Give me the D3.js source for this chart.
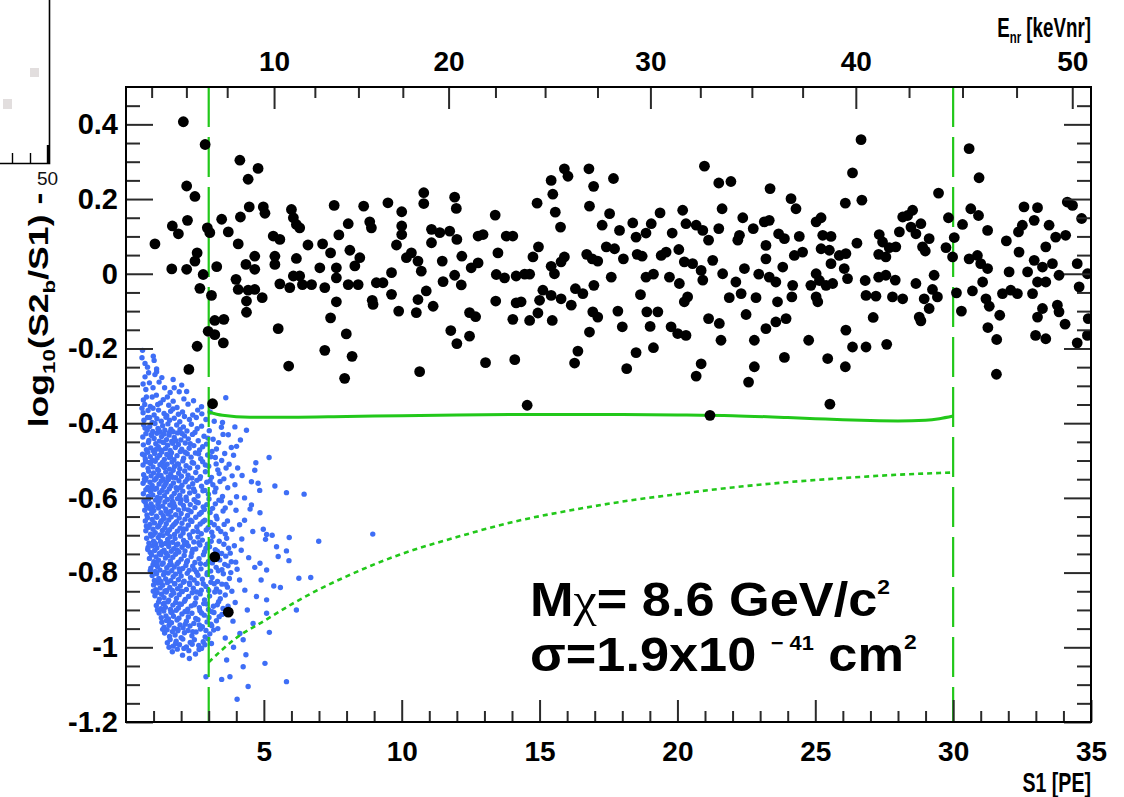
<!DOCTYPE html>
<html>
<head>
<meta charset="utf-8">
<script src="https://cdn.jsdelivr.net/npm/d3@7"></script>
<style>
  body { margin: 0; background: #fff; }
  svg { display: block; }
  text { font-family: "Liberation Sans", Arial, Helvetica, sans-serif; }
</style>
</head>
<body>
<svg id="chart" width="1124" height="797"></svg>
<script>
// ---- data: [S1 (PE), log10(S2b/S1) - mean] ----
const blackEvents = [
  [2.08,0.407],[2.87,0.346],[4.13,0.304],[4.79,0.282],[4.43,0.253],[2.2,0.235],[2.5,0.207],[1.05,0.08],[1.68,0.128],[1.9,0.107],
  [2.23,0.143],[2.95,0.123],[3.04,0.11],[3.47,0.146],[3.71,0.112],[4.07,0.08],[4.15,0.152],[4.47,0.179],[4.98,0.179],[5.04,0.162],
  [1.66,0.013],[2.2,0.012],[2.58,0.056],[2.5,0.034],[2.8,-0.002],[3.29,0.019],[2.68,-0.039],[3.1,-0.058],[3.99,-0.015],[4.07,-0.042],
  [4.35,0.025],[4.67,0.047],[4.67,0.012],[4.43,-0.044],[4.67,-0.042],[4.94,-0.064],[4.37,-0.073],[4.37,-0.103],[3.22,-0.125],[3.55,-0.122],
  [2.98,-0.154],[3.22,-0.163],[3.53,-0.185],[2.58,-0.194],[2.28,-0.256],[3.14,-0.348],[5.52,-0.147],[5.9,-0.247],[5.34,0.101],[5.58,0.092],
  [5.4,0.047],[5.4,0.025],[5.58,-0.027],[5.94,-0.037],[6.0,0.172],[6.07,0.15],[6.18,0.132],[6.3,0.123],[6.18,0.041],[6.07,-0.006],
  [6.3,-0.006],[6.6,0.077],[6.4,-0.029],[6.73,-0.029],[7.13,0.08],[7.03,0.016],[7.21,-0.037],[7.42,0.056],[7.55,0.183],[7.72,0.104],
  [7.63,0.016],[7.63,-0.011],[7.63,-0.075],[7.42,-0.118],[7.21,-0.205],[7.93,-0.28],[7.99,-0.161],[8.2,-0.221],[8.06,0.134],[8.12,0.063],
  [8.06,-0.029],[8.3,0.021],[8.48,0.043],[8.42,-0.029],[8.62,0.181],[8.84,0.139],[8.9,0.123],[8.93,-0.071],[8.96,-0.082],[9.08,-0.024],
  [9.32,-0.024],[9.5,0.19],[9.63,0.003],[9.63,-0.055],[9.89,-0.1],[10.0,0.166],[10.0,0.128],[10.0,0.105],[9.81,0.077],[10.17,0.043],
  [10.35,0.056],[10.59,0.034],[10.71,0.007],[10.53,-0.104],[10.59,-0.069],[10.89,-0.046],[11.14,-0.087],[10.65,-0.262],[10.8,0.217],[10.8,0.188],
  [11.08,0.119],[11.08,0.083],[11.38,0.11],[11.47,0.034],[11.5,-0.021],[11.74,0.114],[11.92,0.205],[11.98,0.175],[11.92,-0.004],[12.16,-0.03],
  [12.0,0.092],[12.18,0.047],[11.78,-0.152],[12.0,-0.187],[12.46,-0.104],[12.68,-0.115],[12.46,-0.167],[12.52,0.016],[12.77,0.029],[12.77,0.101],
  [12.95,0.105],[13.39,0.157],[13.49,0.056],[13.43,-0.002],[13.73,-0.011],[13.79,0.101],[14.03,0.101],[13.41,-0.073],[13.04,-0.238],[14.1,-0.23],
  [14.03,-0.122],[14.15,-0.078],[14.15,-0.006],[3.22,-0.758],[3.71,-0.906],
  [14.46,-0.001],[14.64,-0.001],[14.33,-0.075],[14.64,-0.125],[14.94,-0.105],[14.55,-0.352],[14.91,0.189],[15.42,0.25],[15.9,0.281],[16.03,0.261],
  [15.48,0.213],[15.57,0.165],[15.76,0.125],[14.96,0.072],[14.76,0.045],[15.42,0.02],[15.54,0.0],[15.78,0.032],[15.9,0.045],[15.12,-0.044],
  [15.0,-0.071],[15.42,-0.058],[15.78,-0.067],[16.15,-0.084],[16.3,-0.04],[16.57,-0.053],[15.46,-0.125],[16.79,0.281],[16.96,0.234],[16.81,0.181],
  [17.68,0.255],[16.71,0.052],[16.91,0.04],[17.11,0.034],[16.97,-0.031],[16.93,-0.102],[17.11,-0.116],[16.81,-0.156],[16.39,-0.207],[16.27,-0.239],
  [17.27,0.13],[17.54,0.161],[17.42,0.072],[17.72,0.067],[17.6,-0.009],[17.9,0.116],[18.04,0.04],[17.84,-0.1],[18.0,-0.142],[18.16,-0.254],
  [18.38,0.136],[18.5,0.098],[18.54,0.052],[18.72,0.047],[18.86,0.109],[19.05,0.134],[19.37,0.163],[18.66,-0.056],[18.86,-0.009],[19.13,-0.001],
  [18.89,-0.102],[19.29,-0.102],[19.01,-0.141],[18.5,-0.211],[19.13,-0.198],[19.41,0.049],[19.59,0.058],[19.81,0.109],[19.71,-0.009],[20.07,-0.026],
  [19.77,-0.142],[20.01,-0.16],[20.31,-0.165],[20.05,0.065],[20.25,0.032],[20.19,0.17],[20.31,0.134],[20.68,0.13],[20.92,0.116],[21.13,0.09],
  [20.98,0.288],[21.5,0.243],[21.94,0.247],[21.62,0.174],[21.5,0.121],[20.55,0.027],[20.86,0.009],[20.92,-0.017],[21.28,0.036],[20.37,-0.062],
  [20.25,-0.075],[21.13,-0.12],[21.52,-0.133],[21.58,-0.178],[20.86,-0.241],[20.68,-0.274],[21.18,-0.379],[21.64,0.0],[21.88,-0.064],[22.12,-0.022],
  [22.31,-0.053],[22.43,0.014],[22.19,0.09],[22.25,0.103],[22.37,0.15],[22.75,0.121],[23.15,0.139],[23.33,0.143],[23.36,0.228],[22.49,-0.109],
  [22.79,-0.178],[22.79,-0.249],[22.58,-0.29],[22.85,-0.064],[22.95,-0.001],[23.21,0.076],[23.21,0.04],[23.33,-0.009],[23.57,-0.022],[23.67,0.107],
  [23.88,0.094],[23.82,0.018],[23.63,-0.075],[23.21,-0.147],[23.57,-0.129],[23.94,-0.12],[23.88,-0.224],[24.12,0.201],[24.3,0.174],[24.18,-0.031],
  [24.15,-0.062],[24.24,0.049],
  [24.42,0.1],[24.54,0.058],[25.03,0.139],[25.21,0.15],[25.27,0.103],[25.57,0.1],[25.21,0.067],[25.51,0.063],[25.57,0.027],[25.03,0.0],
  [24.84,-0.031],[25.15,-0.018],[25.39,-0.031],[25.63,-0.026],[25.03,-0.062],[25.09,-0.075],[25.87,0.049],[26.11,0.054],[26.05,0.014],[26.17,-0.013],
  [26.09,0.189],[26.69,0.197],[26.35,0.27],[26.66,0.359],[26.51,0.082],[24.76,-0.178],[25.45,-0.227],[26.11,-0.151],[26.35,-0.196],[26.84,-0.196],
  [26.09,-0.249],[25.53,-0.349],[26.81,-0.018],[26.84,-0.058],[27.2,-0.06],[27.1,-0.117],[27.32,0.105],[27.44,0.085],[27.3,0.052],[27.56,0.045],
  [27.68,0.07],[27.92,0.072],[27.3,-0.009],[27.56,-0.004],[27.9,-0.017],[27.8,-0.062],[28.17,-0.067],[27.59,-0.189],[28.17,0.152],[28.35,0.156],
  [28.53,0.17],[28.05,0.112],[28.47,0.125],[28.83,0.134],[28.65,0.107],[28.89,0.072],[29.13,0.094],[28.99,0.061],[29.47,0.216],[28.65,-0.026],
  [29.31,-0.004],[29.25,-0.042],[28.95,-0.067],[29.43,-0.062],[29.13,-0.093],[28.77,-0.116],[28.83,-0.126],[29.74,0.07],[29.83,0.15],[30.04,0.097],
  [29.98,0.045],[30.12,-0.051],[30.3,-0.1],[30.34,0.132],[30.64,0.174],[30.92,0.156],[30.58,0.335],[30.94,0.257],[31.25,0.116],[30.58,0.04],
  [30.88,0.049],[31.0,0.027],[31.25,0.014],[31.07,-0.022],[30.7,-0.046],[31.19,-0.067],[31.31,-0.087],[31.69,-0.111],[31.26,-0.144],[31.58,-0.176],
  [31.57,-0.269],[31.79,-0.053],[32.03,0.005],[32.09,-0.044],[32.33,-0.053],[31.93,0.088],[32.37,0.112],[32.39,0.058],[32.51,0.13],[32.57,0.179],
  [33.06,0.177],[32.94,0.143],[32.7,0.005],[32.94,0.036],[32.88,-0.053],[33.24,0.018],[33.36,0.072],[33.06,-0.022],[33.36,-0.022],[33.6,0.027],
  [33.84,-0.004],[33.48,0.13],[33.72,0.098],[34.08,0.103],[34.14,0.192],[34.33,0.183],[34.66,0.148],[33.24,-0.093],[33.06,-0.116],[33.78,-0.084],
  [33.84,-0.102],[34.06,-0.135],[32.99,-0.165],[33.36,-0.174],[34.5,0.027],[34.57,-0.035],[34.87,0.0],[34.9,-0.12],[34.87,-0.165],[34.5,-0.185]
];

// neutron calibration (nuclear recoil band)
const blueCalib = [
  [0.6,-0.205],[0.99,-0.221],[0.69,-0.24],[1.02,-0.232],[1.11,-0.255],[0.78,-0.25],[0.69,-0.276],[1.11,-0.262],[1.71,-0.283],[1.05,-0.27],
  [2.02,-0.298],[1.2,-0.29],[0.85,-0.292],[1.93,-0.316],[0.72,-0.31],[1.4,-0.305],[1.6,-0.318],[0.63,-0.338],[1.35,-0.337],[1.71,-0.341],
  [3.62,-0.332],[0.95,-0.33],[1.1,-0.325],[2.1,-0.335],[0.68,-0.35],[0.88,-0.355],[1.25,-0.346],[1.55,-0.352],[1.85,-0.358],[2.74,-0.356],
  [2.25,-0.349],[0.98,-0.36],[0.62,-0.372],[0.8,-0.366],[1.02,-0.378],[1.18,-0.365],[1.38,-0.374],[1.62,-0.368],[1.9,-0.376],[2.42,-0.378],
  [2.05,-0.37],[1.48,-0.38],[0.65,-0.392],[0.78,-0.385],[0.95,-0.398],[1.12,-0.388],[1.28,-0.395],[1.45,-0.384],[1.58,-0.392],[1.75,-0.387],
  [1.95,-0.396],[2.3,-0.39],[2.55,-0.385],[3.5,-0.398],[2.9,-0.39],
  [0.58,-0.225],[0.82,-0.265],[1.3,-0.278],[0.62,-0.295],[0.98,-0.305],[1.75,-0.305],[2.2,-0.315],[0.74,-0.33],[1.5,-0.33],[2.45,-0.34],
  [0.58,-0.36],[1.15,-0.35],[1.7,-0.362],[2.6,-0.365],[3.05,-0.37],[0.86,-0.385],[2.12,-0.382],[2.75,-0.375],[3.2,-0.395],[3.95,-0.41],[4.15,-0.445],
  [0.64,-0.404],[0.77,-0.418],[0.86,-0.409],[0.97,-0.422],[1.05,-0.401],[1.16,-0.414],[1.24,-0.424],[1.33,-0.407],[1.41,-0.419],[1.52,-0.402],
  [1.63,-0.416],[1.71,-0.423],[1.84,-0.405],[1.96,-0.417],[2.08,-0.41],[2.21,-0.421],[2.37,-0.403],[2.58,-0.415],[2.74,-0.408],[3.02,-0.42],
  [3.46,-0.411],[4.37,-0.419],
  [0.61,-0.437],[0.72,-0.428],[0.83,-0.446],[0.93,-0.433],[1.02,-0.441],[1.12,-0.427],[1.21,-0.448],[1.29,-0.436],[1.38,-0.429],[1.47,-0.444],
  [1.56,-0.432],[1.66,-0.449],[1.75,-0.438],[1.87,-0.426],[1.99,-0.445],[2.12,-0.434],[2.26,-0.442],[2.41,-0.43],[2.62,-0.447],[2.83,-0.435],
  [3.16,-0.443],[3.71,-0.431],
  [0.63,-0.458],[0.74,-0.471],[0.81,-0.452],[0.9,-0.466],[0.99,-0.474],[1.08,-0.455],[1.17,-0.463],[1.26,-0.472],[1.34,-0.451],[1.43,-0.468],
  [1.51,-0.459],[1.6,-0.473],[1.69,-0.454],[1.79,-0.465],[1.9,-0.457],[2.02,-0.47],[2.15,-0.453],[2.29,-0.467],[2.46,-0.46],[2.67,-0.472],
  [2.92,-0.456],[3.28,-0.469],[4.01,-0.462],
  [0.6,-0.483],[0.7,-0.496],[0.79,-0.478],[0.88,-0.49],[0.96,-0.499],[1.04,-0.481],[1.13,-0.493],[1.22,-0.486],[1.3,-0.477],[1.39,-0.497],
  [1.48,-0.484],[1.57,-0.492],[1.65,-0.479],[1.74,-0.498],[1.85,-0.487],[1.97,-0.476],[2.09,-0.494],[2.22,-0.482],[2.36,-0.491],[2.52,-0.48],
  [2.71,-0.495],[2.96,-0.485],[3.24,-0.492],[3.58,-0.481],[5.19,-0.492],
  [0.62,-0.512],[0.71,-0.503],[0.8,-0.521],[0.89,-0.508],[0.98,-0.517],[1.06,-0.502],[1.15,-0.524],[1.23,-0.511],[1.32,-0.505],[1.4,-0.519],
  [1.49,-0.51],[1.58,-0.523],[1.67,-0.504],[1.76,-0.516],[1.86,-0.509],[1.95,-0.522],[2.06,-0.501],[2.18,-0.514],[2.31,-0.52],[2.45,-0.507],
  [2.6,-0.518],[2.78,-0.503],[3.0,-0.515],[3.27,-0.509],[3.63,-0.52],[4.71,-0.506],[4.67,-0.526],
  [0.64,-0.538],[0.73,-0.547],[0.82,-0.529],[0.91,-0.541],[1.0,-0.533],[1.09,-0.548],[1.18,-0.527],[1.27,-0.54],[1.35,-0.549],[1.44,-0.531],
  [1.53,-0.544],[1.62,-0.536],[1.71,-0.526],[1.8,-0.546],[1.91,-0.534],[2.01,-0.542],[2.13,-0.528],[2.25,-0.539],[2.39,-0.547],[2.53,-0.532],
  [2.7,-0.543],[2.88,-0.53],[3.1,-0.545],[3.38,-0.535],[3.85,-0.541],
  [0.62,-0.561],[0.7,-0.553],[0.79,-0.572],[0.87,-0.558],[0.95,-0.567],[1.03,-0.552],[1.11,-0.574],[1.2,-0.563],[1.28,-0.555],[1.37,-0.57],
  [1.46,-0.559],[1.54,-0.551],[1.63,-0.568],[1.72,-0.56],[1.82,-0.573],[1.92,-0.554],[2.03,-0.566],[2.15,-0.557],[2.28,-0.571],[2.42,-0.562],
  [2.57,-0.553],[2.74,-0.569],[2.93,-0.558],[3.15,-0.565],[3.41,-0.556],[4.55,-0.557],[4.79,-0.561],[5.4,-0.568],
  [0.63,-0.589],[0.72,-0.578],[0.81,-0.596],[0.89,-0.583],[0.97,-0.592],[1.05,-0.577],[1.14,-0.599],[1.22,-0.586],[1.31,-0.58],[1.39,-0.594],
  [1.48,-0.584],[1.57,-0.576],[1.66,-0.597],[1.75,-0.588],[1.85,-0.579],[1.95,-0.593],[2.06,-0.582],[2.18,-0.598],[2.31,-0.587],[2.45,-0.576],
  [2.61,-0.595],[2.79,-0.581],[2.99,-0.59],[3.22,-0.584],[3.5,-0.596],[4.01,-0.597],[5.82,-0.586],[6.46,-0.59],
  [0.65,-0.608],[0.74,-0.621],[0.82,-0.603],[0.91,-0.616],[0.99,-0.624],[1.07,-0.606],[1.16,-0.617],[1.24,-0.601],[1.33,-0.622],[1.41,-0.611],
  [1.5,-0.604],[1.59,-0.619],[1.68,-0.609],[1.77,-0.623],[1.87,-0.602],[1.97,-0.614],[2.08,-0.62],[2.2,-0.607],[2.33,-0.618],[2.47,-0.605],
  [2.62,-0.613],[2.8,-0.624],[3.01,-0.603],[3.24,-0.616],[3.46,-0.608],[4.55,-0.619],
  [0.68,-0.633],[0.76,-0.646],[0.85,-0.628],[0.93,-0.641],[1.01,-0.634],[1.1,-0.649],[1.18,-0.627],[1.27,-0.64],[1.35,-0.648],[1.44,-0.63],
  [1.53,-0.643],[1.62,-0.636],[1.71,-0.626],[1.8,-0.645],[1.9,-0.632],[2.0,-0.642],[2.11,-0.629],[2.23,-0.647],[2.36,-0.637],[2.5,-0.626],
  [2.66,-0.644],[2.84,-0.631],[3.05,-0.639],[3.27,-0.649],[3.52,-0.635],[4.86,-0.64],
  [0.7,-0.662],[0.78,-0.653],[0.87,-0.671],[0.95,-0.658],[1.03,-0.667],[1.12,-0.652],[1.2,-0.674],[1.29,-0.661],[1.38,-0.655],[1.46,-0.669],
  [1.55,-0.659],[1.64,-0.651],[1.73,-0.672],[1.83,-0.664],[1.93,-0.654],[2.03,-0.668],[2.14,-0.657],[2.26,-0.673],[2.39,-0.663],[2.53,-0.652],
  [2.69,-0.67],[2.86,-0.66],[3.07,-0.666],[3.3,-0.656],[3.56,-0.671],[4.3,-0.66],
  [0.72,-0.688],[0.81,-0.679],[0.89,-0.697],[0.98,-0.684],[1.06,-0.693],[1.15,-0.678],[1.23,-0.699],[1.32,-0.687],[1.41,-0.68],[1.49,-0.695],
  [1.58,-0.685],[1.67,-0.677],[1.76,-0.698],[1.86,-0.689],[1.96,-0.681],[2.07,-0.694],[2.18,-0.683],[2.3,-0.699],[2.43,-0.69],[2.57,-0.678],
  [2.73,-0.696],[2.91,-0.686],[3.11,-0.692],[3.34,-0.682],[3.6,-0.697],[4.98,-0.684],[5.1,-0.698],[8.95,-0.697],
  [0.75,-0.708],[0.83,-0.721],[0.92,-0.703],[1.0,-0.716],[1.08,-0.724],[1.17,-0.706],[1.25,-0.717],[1.34,-0.701],[1.43,-0.722],[1.51,-0.711],
  [1.6,-0.704],[1.69,-0.719],[1.78,-0.709],[1.88,-0.723],[1.98,-0.702],[2.09,-0.714],[2.2,-0.72],[2.33,-0.707],[2.46,-0.718],[2.61,-0.705],
  [2.77,-0.713],[2.95,-0.724],[3.15,-0.703],[3.38,-0.716],[3.65,-0.708],[5.06,-0.711],[5.92,-0.706],[6.99,-0.716],
  [0.8,-0.733],[0.88,-0.746],[0.96,-0.728],[1.04,-0.741],[1.12,-0.734],[1.21,-0.749],[1.29,-0.727],[1.38,-0.74],[1.46,-0.748],[1.55,-0.73],
  [1.64,-0.743],[1.73,-0.736],[1.83,-0.726],[1.92,-0.745],[2.03,-0.732],[2.14,-0.742],[2.26,-0.729],[2.39,-0.747],[2.53,-0.737],[2.68,-0.726],
  [2.85,-0.744],[3.03,-0.731],[3.24,-0.739],[3.47,-0.749],[3.72,-0.735],[5.46,-0.731],[5.82,-0.742],
  [0.85,-0.762],[0.93,-0.753],[1.01,-0.771],[1.09,-0.758],[1.18,-0.767],[1.26,-0.752],[1.35,-0.774],[1.43,-0.761],[1.52,-0.755],[1.61,-0.769],
  [1.7,-0.759],[1.8,-0.751],[1.9,-0.772],[2.0,-0.764],[2.11,-0.754],[2.23,-0.768],[2.36,-0.757],[2.5,-0.773],[2.65,-0.763],[2.81,-0.752],
  [2.99,-0.77],[3.18,-0.76],[3.4,-0.766],[3.62,-0.756],[3.82,-0.771],[5.52,-0.757],[5.91,-0.768],[4.86,-0.775],
  [0.9,-0.788],[0.98,-0.779],[1.06,-0.797],[1.14,-0.784],[1.23,-0.793],[1.31,-0.778],[1.4,-0.799],[1.48,-0.787],[1.57,-0.78],[1.66,-0.795],
  [1.75,-0.785],[1.85,-0.777],[1.95,-0.798],[2.06,-0.789],[2.17,-0.781],[2.29,-0.794],[2.42,-0.783],[2.56,-0.799],[2.72,-0.79],[2.89,-0.778],
  [3.07,-0.796],[3.27,-0.786],[3.48,-0.792],[3.7,-0.782],[4.03,-0.791],[4.67,-0.786],[5.1,-0.793],
  [0.95,-0.808],[1.03,-0.821],[1.11,-0.803],[1.19,-0.816],[1.27,-0.824],[1.36,-0.806],[1.44,-0.817],[1.53,-0.801],[1.62,-0.822],[1.71,-0.811],
  [1.8,-0.804],[1.9,-0.819],[2.0,-0.809],[2.11,-0.823],[2.22,-0.802],[2.34,-0.814],[2.47,-0.82],[2.61,-0.807],[2.77,-0.818],[2.94,-0.805],
  [3.12,-0.813],[3.32,-0.824],[3.53,-0.803],[3.75,-0.816],[6.27,-0.815],[6.7,-0.813],
  [1.0,-0.833],[1.08,-0.846],[1.16,-0.828],[1.24,-0.841],[1.33,-0.834],[1.41,-0.849],[1.5,-0.827],[1.59,-0.84],[1.68,-0.848],[1.77,-0.83],
  [1.87,-0.843],[1.97,-0.836],[2.08,-0.826],[2.19,-0.845],[2.31,-0.832],[2.44,-0.842],[2.58,-0.829],[2.73,-0.847],[2.9,-0.837],[3.08,-0.826],
  [3.28,-0.844],[3.48,-0.831],[3.68,-0.839],[5.36,-0.836],[4.31,-0.847],
  [1.05,-0.862],[1.13,-0.853],[1.21,-0.871],[1.29,-0.858],[1.38,-0.867],[1.46,-0.852],[1.55,-0.874],[1.64,-0.861],[1.73,-0.855],[1.83,-0.869],
  [1.93,-0.859],[2.04,-0.851],[2.15,-0.872],[2.27,-0.864],[2.4,-0.854],[2.54,-0.868],[2.69,-0.857],[2.85,-0.873],[3.03,-0.863],[3.22,-0.852],
  [3.42,-0.87],[3.6,-0.86],[4.73,-0.864],[5.1,-0.873],
  [1.1,-0.888],[1.18,-0.879],[1.26,-0.897],[1.35,-0.884],[1.43,-0.893],[1.52,-0.878],[1.61,-0.899],[1.7,-0.887],[1.8,-0.88],[1.9,-0.895],
  [2.01,-0.885],[2.12,-0.877],[2.24,-0.898],[2.37,-0.889],[2.51,-0.881],[2.66,-0.894],[2.82,-0.883],[2.99,-0.899],[3.17,-0.89],[3.36,-0.878],
  [3.52,-0.896],[6.18,-0.9],
  [1.2,-0.908],[1.28,-0.921],[1.37,-0.903],[1.45,-0.916],[1.54,-0.924],[1.63,-0.906],[1.72,-0.917],[1.82,-0.901],[1.92,-0.922],[2.03,-0.911],
  [2.14,-0.904],[2.26,-0.919],[2.39,-0.909],[2.53,-0.923],[2.68,-0.902],[2.84,-0.914],[3.01,-0.92],[3.19,-0.907],[3.38,-0.918],[5.1,-0.909],
  [1.3,-0.933],[1.38,-0.946],[1.47,-0.928],[1.56,-0.941],[1.65,-0.934],[1.75,-0.949],[1.85,-0.927],[1.96,-0.94],[2.07,-0.948],[2.19,-0.93],
  [2.32,-0.943],[2.46,-0.936],[2.61,-0.926],[2.77,-0.945],[2.94,-0.932],[3.11,-0.942],[3.28,-0.929],[4.61,-0.936],
  [1.4,-0.962],[1.49,-0.953],[1.58,-0.971],[1.68,-0.958],[1.78,-0.967],[1.89,-0.952],[2.0,-0.974],[2.12,-0.961],[2.25,-0.955],[2.39,-0.969],
  [2.54,-0.959],[2.7,-0.951],[2.87,-0.972],[3.04,-0.964],[3.18,-0.954],[4.13,-0.963],
  [1.5,-0.988],[1.6,-0.979],[1.71,-0.997],[1.82,-0.984],[1.94,-0.993],[2.06,-0.978],[2.19,-0.999],[2.33,-0.987],[2.48,-0.98],[2.64,-0.995],
  [2.8,-0.985],[2.97,-0.977],
  [1.68,-1.012],[1.86,-1.005],[2.05,-1.021],[2.28,-1.009],[2.52,-1.018],[2.74,-1.003],[3.65,-1.034],[2.3,-1.03],
  [3.77,-1.079],[3.47,-1.086],[4.25,-1.052],[4.43,-1.105],[5.04,-1.043],[5.82,-1.092],[4.03,-1.139],[2.9,-1.079],[4.35,-1.02],[3.9,-1.0],
  [0.69,-0.413],[0.91,-0.431],[1.19,-0.418],[1.37,-0.452],[1.58,-0.425],[1.81,-0.447],[2.04,-0.428],[2.33,-0.455],[2.5,-0.425],[2.78,-0.463],
  [2.97,-0.44],[3.12,-0.476],[3.36,-0.452],[3.52,-0.43],
  [0.66,-0.486],[0.85,-0.505],[1.1,-0.47],[1.35,-0.515],[1.61,-0.489],[1.9,-0.51],[2.14,-0.478],[2.4,-0.505],[2.63,-0.482],[2.88,-0.512],
  [3.08,-0.49],[3.33,-0.525],[3.47,-0.5],[3.74,-0.51],[3.9,-0.486],
  [0.67,-0.55],[0.94,-0.576],[1.16,-0.54],[1.42,-0.565],[1.69,-0.545],[1.97,-0.572],[2.22,-0.55],[2.49,-0.583],[2.68,-0.548],[2.86,-0.58],
  [3.05,-0.555],[3.26,-0.574],[3.55,-0.549],[3.69,-0.573],[3.95,-0.565],[4.21,-0.54],
  [0.7,-0.612],[0.95,-0.637],[1.2,-0.61],[1.46,-0.636],[1.73,-0.615],[2.0,-0.605],[2.26,-0.632],[2.55,-0.611],[2.73,-0.639],[2.93,-0.618],
  [3.14,-0.628],[3.37,-0.606],[3.6,-0.627],[3.78,-0.613],[3.99,-0.633],
  [0.74,-0.675],[0.99,-0.699],[1.25,-0.666],[1.52,-0.691],[1.79,-0.668],[2.07,-0.683],[2.34,-0.66],[2.6,-0.69],[2.79,-0.664],[2.98,-0.68],
  [3.2,-0.672],[3.44,-0.69],[3.68,-0.662],[3.85,-0.684],[4.12,-0.672],
  [0.79,-0.738],[1.03,-0.72],[1.3,-0.744],[1.56,-0.72],[1.86,-0.74],[2.12,-0.725],[2.42,-0.738],[2.64,-0.72],[2.9,-0.735],[3.09,-0.716],
  [3.31,-0.743],[3.55,-0.724],[3.78,-0.748],[3.93,-0.728],[4.18,-0.74],
  [0.88,-0.795],[1.12,-0.776],[1.39,-0.8],[1.64,-0.778],[1.93,-0.79],[2.2,-0.772],[2.48,-0.792],[2.7,-0.776],[2.95,-0.8],[3.13,-0.774],
  [3.35,-0.795],[3.58,-0.778],[3.8,-0.8],[3.98,-0.772],
  [0.99,-0.85],[1.22,-0.826],[1.48,-0.848],[1.76,-0.83],[2.02,-0.85],[2.3,-0.828],[2.56,-0.852],[2.8,-0.83],[3.0,-0.848],[3.2,-0.83],
  [3.4,-0.852],[3.63,-0.832],[3.84,-0.85],
  [1.14,-0.9],[1.39,-0.882],[1.67,-0.906],[1.95,-0.884],[2.22,-0.905],[2.48,-0.886],[2.74,-0.908],[2.93,-0.884],[3.12,-0.905],[3.31,-0.886],
  [3.48,-0.912],[3.7,-0.89],
  [1.33,-0.952],[1.6,-0.935],[1.88,-0.956],[2.15,-0.938],[2.42,-0.958],[2.66,-0.94],[2.9,-0.955],[3.08,-0.938],[3.33,-0.95],
  [1.56,-1.0],[1.8,-0.99],[2.1,-1.003],[2.4,-0.992],[2.65,-1.006],[2.86,-0.993],[3.1,-0.99],
  [3.82,-0.465],[4.05,-0.52],[4.3,-0.6],[4.2,-0.71],[4.45,-0.76],[4.12,-0.82],[4.4,-0.9],[3.96,-0.88],[4.6,-0.69],[4.5,-0.63],
  [3.88,-0.93],[4.25,-0.98],[3.6,-0.975],[4.9,-0.82],[5.3,-0.7],[4.85,-0.58],[5.6,-0.84],[5.2,-0.96]
];

// analysis window in S1
const s1Window = [3, 30];
// upper acceptance cut (solid)
const cutS1 = [3, 3.5, 4.5, 6, 8, 10, 12, 14, 16, 18, 20, 22, 24, 25, 26, 27, 28, 29, 29.5, 30];
const cutV  = [-0.370, -0.379, -0.384, -0.384, -0.382, -0.380, -0.378, -0.377, -0.377, -0.377, -0.378, -0.380, -0.385, -0.388, -0.391, -0.393, -0.394, -0.392, -0.388, -0.381];
// lower signal-region boundary (dotted)
const lowS1 = [3, 4, 5, 6, 7, 8, 10, 12, 14, 16, 18, 20, 22, 24, 26, 28, 30];
const lowV  = [-1.04, -0.975, -0.93, -0.885, -0.845, -0.81, -0.75, -0.705, -0.665, -0.635, -0.61, -0.59, -0.572, -0.558, -0.547, -0.538, -0.532];

// axis ticks
const s1Ticks = [5, 10, 15, 20, 25, 30, 35];
const yTicks = [0.4, 0.2, 0, -0.2, -0.4, -0.6, -0.8, -1, -1.2];
const enrTicks = [2.5, 5, 7.5, 10, 12.5, 15, 17.5, 20, 22.5, 25, 27.5, 30, 32.5, 35, 37.5, 40, 42.5, 45, 47.5, 50];
const enrAtS1  = [0.93, 2.19, 3.67, 5.37, 6.85, 8.43, 10.04, 11.7, 13.4, 15.2, 17.1, 19.02, 20.83, 22.7, 24.54, 26.47, 28.4, 30.34, 32.3, 34.32];
const enrLabels = [10, 20, 30, 40, 50];

// ---- layout ----
const svg = d3.select("#chart");
const L = 126, R = 1091, T = 87, B = 722;
const x = d3.scaleLinear().domain([0, 35]).range([L, R]);
const y = d3.scaleLinear().domain([-1.2, 0.5]).range([B, T]);
const enr = d3.scaleLinear().domain(enrTicks).range(enrAtS1.map(s => x(s)));

const FONT = '"Liberation Sans", Arial, Helvetica, sans-serif';
const GREEN = "#22c81a";
const TICK = "#2a2a2a";

// remnant of the neighbouring panel (top-left corner)
const inset = svg.append("g");
inset.append("path").attr("d", "M49.5,0 V163.5 H0").attr("fill", "none").attr("stroke", "#000").attr("stroke-width", 1.6);
[12.5, 30.5].forEach(px => inset.append("line").attr("x1", px).attr("x2", px).attr("y1", 153).attr("y2", 163.5).attr("stroke", "#000").attr("stroke-width", 1.4));
inset.append("line").attr("x1", 48).attr("x2", 48).attr("y1", 145).attr("y2", 163.5).attr("stroke", "#000").attr("stroke-width", 2.4);
inset.append("rect").attr("x", 30).attr("y", 68).attr("width", 9).attr("height", 9).attr("fill", "#e2dede");
inset.append("rect").attr("x", 3).attr("y", 99).attr("width", 9).attr("height", 10).attr("fill", "#e2dede");
inset.append("text").attr("x", 37).attr("y", 185).attr("font-family", '"Liberation Serif", "Times New Roman", serif')
  .attr("font-size", 19).attr("fill", "#111").text("50");

// clip for marks inside the frame
svg.append("defs").append("clipPath").attr("id", "frameClip")
  .append("rect").attr("x", L).attr("y", T).attr("width", R - L).attr("height", B - T);
const plot = svg.append("g").attr("clip-path", "url(#frameClip)");

// calibration band
plot.append("g").selectAll("circle").data(blueCalib).join("circle")
  .attr("cx", d => x(d[0])).attr("cy", d => y(d[1])).attr("r", 2.7)
  .attr("fill", "#3e6ef6");

// window edges
plot.append("g").selectAll("line").data(s1Window).join("line")
  .attr("x1", d => x(d)).attr("x2", d => x(d)).attr("y1", T).attr("y2", B)
  .attr("stroke", GREEN).attr("stroke-width", 2.2).attr("stroke-dasharray", "40,10");

// acceptance boundaries
const cutLine = d3.line().curve(d3.curveMonotoneX).x(d => x(d[0])).y(d => y(d[1]));
plot.append("path").datum(cutS1.map((s, i) => [s, cutV[i]])).attr("d", cutLine)
  .attr("fill", "none").attr("stroke", GREEN).attr("stroke-width", 3);
plot.append("path").datum(lowS1.map((s, i) => [s, lowV[i]])).attr("d", cutLine)
  .attr("fill", "none").attr("stroke", GREEN).attr("stroke-width", 2.6).attr("stroke-dasharray", "5,4");

// search events
plot.append("g").selectAll("circle").data(blackEvents).join("circle")
  .attr("cx", d => x(d[0])).attr("cy", d => y(d[1])).attr("r", 5.4)
  .attr("fill", "#000");

// ---- axes ----
function styleAxis(g, size, withText) {
  g.select(".domain").remove();
  g.selectAll(".tick line").attr("stroke", TICK).attr("stroke-width", 2);
  g.selectAll(".tick text").attr("font-family", FONT).attr("font-weight", "bold")
    .attr("font-size", size).attr("fill", "#000");
  if (!withText) g.selectAll(".tick text").remove();
}

const s1Minor = d3.range(1, 35).filter(v => v % 5 !== 0);
const yMinor = d3.range(-24, 10).map(k => k * 0.05).filter(v => Math.abs(Math.round(v * 100)) % 20 !== 0);
const enrMinor = enrTicks.filter(v => !enrLabels.includes(v));

// bottom S1 axis
svg.append("g").attr("transform", `translate(0,${B})`)
  .call(d3.axisBottom(x).tickValues(s1Minor).tickSize(-11).tickFormat(""))
  .call(g => styleAxis(g, 28, false));
svg.append("g").attr("transform", `translate(0,${B})`)
  .call(d3.axisBottom(x).tickValues(s1Ticks).tickSize(-22).tickPadding(19).tickFormat(d3.format("d")))
  .call(g => styleAxis(g, 28, true));

// top Enr axis
svg.append("g").attr("transform", `translate(0,${T})`)
  .call(d3.axisTop(enr).tickValues(enrMinor).tickSize(-11).tickFormat(""))
  .call(g => styleAxis(g, 28, false));
svg.append("g").attr("transform", `translate(0,${T})`)
  .call(d3.axisTop(enr).tickValues(enrLabels).tickSize(-22).tickPadding(16).tickFormat(d3.format("d")))
  .call(g => styleAxis(g, 28, true));

// left & right y axes
const yFmt = d => String(d);
svg.append("g").attr("transform", `translate(${L},0)`)
  .call(d3.axisLeft(y).tickValues(yMinor).tickSize(-14).tickFormat(""))
  .call(g => styleAxis(g, 29, false));
svg.append("g").attr("transform", `translate(${L},0)`)
  .call(d3.axisLeft(y).tickValues(yTicks).tickSize(-27).tickPadding(8).tickFormat(yFmt))
  .call(g => styleAxis(g, 29, true));
svg.append("g").attr("transform", `translate(${R},0)`)
  .call(d3.axisRight(y).tickValues(yMinor).tickSize(-14).tickFormat(""))
  .call(g => styleAxis(g, 29, false));
svg.append("g").attr("transform", `translate(${R},0)`)
  .call(d3.axisRight(y).tickValues(yTicks).tickSize(-27).tickFormat(""))
  .call(g => styleAxis(g, 29, false));

// frame
svg.append("rect").attr("x", L).attr("y", T).attr("width", R - L).attr("height", B - T)
  .attr("fill", "none").attr("stroke", "#000").attr("stroke-width", 2);

// ---- titles (condensed / stretched like the canvas they come from) ----
svg.append("g").attr("transform", `translate(${R},792) scale(0.7,1)`)
  .append("text").attr("text-anchor", "end")
  .attr("font-family", FONT).attr("font-weight", "bold").attr("font-size", 28).text("S1 [PE]");

const topTitle = svg.append("g").attr("transform", `translate(${R},37) scale(0.67,1)`)
  .append("text").attr("text-anchor", "end")
  .attr("font-family", FONT).attr("font-weight", "bold").attr("font-size", 28);
topTitle.append("tspan").text("E");
topTitle.append("tspan").attr("font-size", 17).attr("dy", 6).text("nr");
topTitle.append("tspan").attr("dy", -6).text(" [keVnr]");

const yTitle = svg.append("g").attr("transform", "translate(48,310) rotate(-90) scale(1.32,1)")
  .append("text").attr("text-anchor", "middle")
  .attr("font-family", FONT).attr("font-weight", "bold").attr("font-size", 27);
yTitle.append("tspan").text("log");
yTitle.append("tspan").attr("font-size", 17).attr("dy", 7).text("10");
yTitle.append("tspan").attr("dy", -7).text("(S2");
yTitle.append("tspan").attr("font-size", 17).attr("dy", 7).text("b");
yTitle.append("tspan").attr("dy", -7).text("/S1) -");

// ---- model annotation ----
const ann = svg.append("g").attr("font-family", FONT).attr("font-weight", "bold").attr("fill", "#000")
  .attr("transform", "translate(530,0) scale(1.09,1) translate(-530,0)");
const l1 = ann.append("text").attr("x", 530).attr("y", 616).attr("font-size", 48);
l1.append("tspan").text("M");
l1.append("tspan").attr("font-family", '"Liberation Serif", "DejaVu Serif", serif').attr("font-weight", "normal").text("χ");
l1.append("tspan").text("= 8.6 GeV/c");
l1.append("tspan").attr("font-size", 21).attr("dy", -22).text("2");
const l2 = ann.append("text").attr("x", 530).attr("y", 671).attr("font-size", 48);
l2.append("tspan").text("σ=1.9x10 ");
l2.append("tspan").attr("font-size", 20).attr("dy", -21).text("− 41");
l2.append("tspan").attr("dy", 21).text(" cm");
l2.append("tspan").attr("font-size", 21).attr("dy", -22).text("2");
</script>
</body>
</html>
